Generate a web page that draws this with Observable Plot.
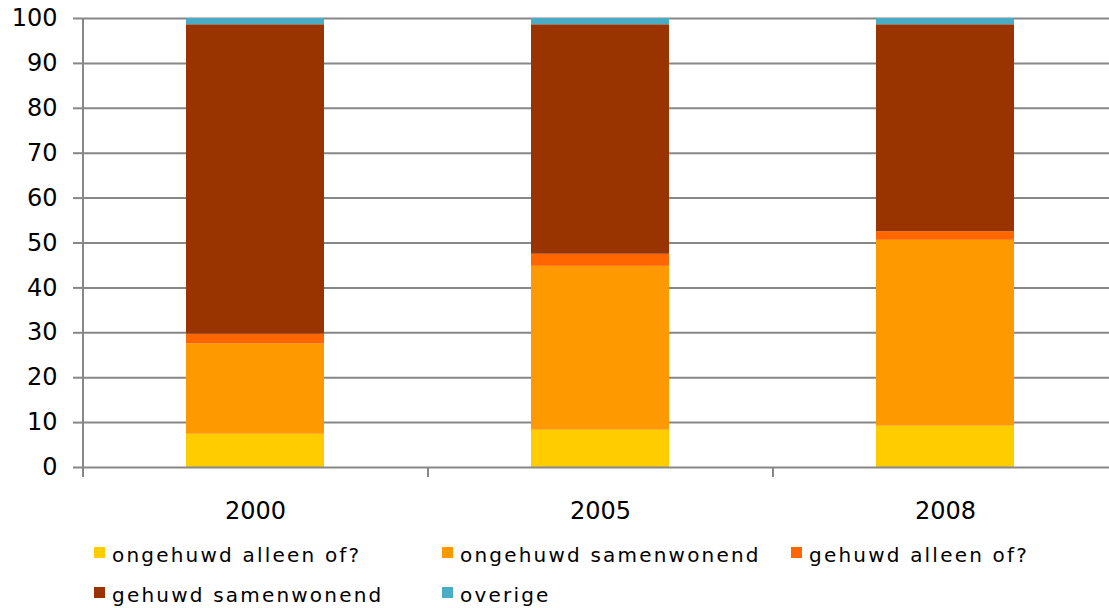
<!DOCTYPE html>
<html>
<head>
<meta charset="utf-8">
<script src="https://cdn.jsdelivr.net/npm/d3@7"></script>
<script src="https://cdn.jsdelivr.net/npm/@observablehq/plot@0.6"></script>
<style>
  html, body { margin: 0; padding: 0; background: #fff; width: 1109px; height: 608px; overflow: hidden; }
  #wrap { position: relative; width: 1109px; height: 608px; }
  #legend { position: absolute; left: 94px; top: 535px; display: grid;
            grid-template-columns: 348px 349px 300px; grid-auto-rows: 40px;
            font-family: "DejaVu Sans", sans-serif; font-size: 20px; letter-spacing: 2.2px; color: #000; }
  .item { display: flex; align-items: center; white-space: nowrap; }
  .sw { width: 11px; height: 11px; margin-right: 7px; position: relative; top: -3px; flex: none; }
</style>
</head>
<body>
<div id="wrap"><div id="chart"></div><div id="legend"></div></div>
<script>
const years = ["2000", "2005", "2008"];
const series = ["ongehuwd alleen of?", "ongehuwd samenwonend", "gehuwd alleen of?", "gehuwd samenwonend", "overige"];
const colors = ["#FFCC00", "#FF9900", "#FF6600", "#993300", "#4BACC6"];
const ongehuwdAlleen = [7.4, 8.3, 9.2];
const ongehuwdSamenwonend = [20.1, 36.5, 41.4];
const gehuwdAlleen = [2.2, 2.7, 1.9];
const gehuwdSamenwonend = [68.9, 51.1, 46.1];
const overige = [1.4, 1.4, 1.4];
const yTicks = [0, 10, 20, 30, 40, 50, 60, 70, 80, 90, 100];

const seriesValues = [ongehuwdAlleen, ongehuwdSamenwonend, gehuwdAlleen, gehuwdSamenwonend, overige];
const data = [];
years.forEach((yr, i) => {
  series.forEach((s, j) => data.push({year: yr, series: s, value: seriesValues[j][i]}));
});

const W = 1109, H = 535, ML = 82, MR = -8, MT = 18, MB = 68;
const step = (W - ML - MR) / years.length;
const grey = "#878787";

const chart = Plot.plot({
  width: W, height: H,
  marginLeft: ML, marginRight: MR, marginTop: MT, marginBottom: MB,
  style: {fontFamily: "DejaVu Sans, sans-serif", fontSize: "24px", color: "#000", background: "#fff"},
  x: {domain: years, paddingInner: 0.6, paddingOuter: 0.3, axis: null},
  y: {domain: [0, 100], axis: null},
  color: {domain: series, range: colors},
  marks: [
    Plot.ruleY(yTicks.filter(d => d > 0), {stroke: grey, strokeWidth: 2}),
    Plot.barY(data, {x: "year", y: "value", fill: "series"}),
    Plot.ruleY([0], {stroke: grey, strokeWidth: 2}),
    Plot.ruleX([years[0]], {dx: -step / 2, y1: 100, y2: 0, insetBottom: -10, stroke: grey, strokeWidth: 2}),
    Plot.ruleX(years.slice(1), {dx: -step / 2, y1: 0, y2: 0, insetBottom: -10, stroke: grey, strokeWidth: 2}),
    Plot.axisY({ticks: yTicks, tickSize: 9, tickPadding: 16, fontSize: 24, label: null, stroke: grey, strokeWidth: 2}),
    Plot.axisX({tickSize: 0, tickPadding: 34, fontSize: 24, label: null})
  ]
});
document.getElementById("chart").appendChild(chart);

const legend = document.getElementById("legend");
series.forEach((s, j) => {
  const it = document.createElement("div");
  it.className = "item";
  const sw = document.createElement("span");
  sw.className = "sw";
  sw.style.background = colors[j];
  const tx = document.createElement("span");
  tx.textContent = s;
  it.appendChild(sw);
  it.appendChild(tx);
  legend.appendChild(it);
});
</script>
</body>
</html>
